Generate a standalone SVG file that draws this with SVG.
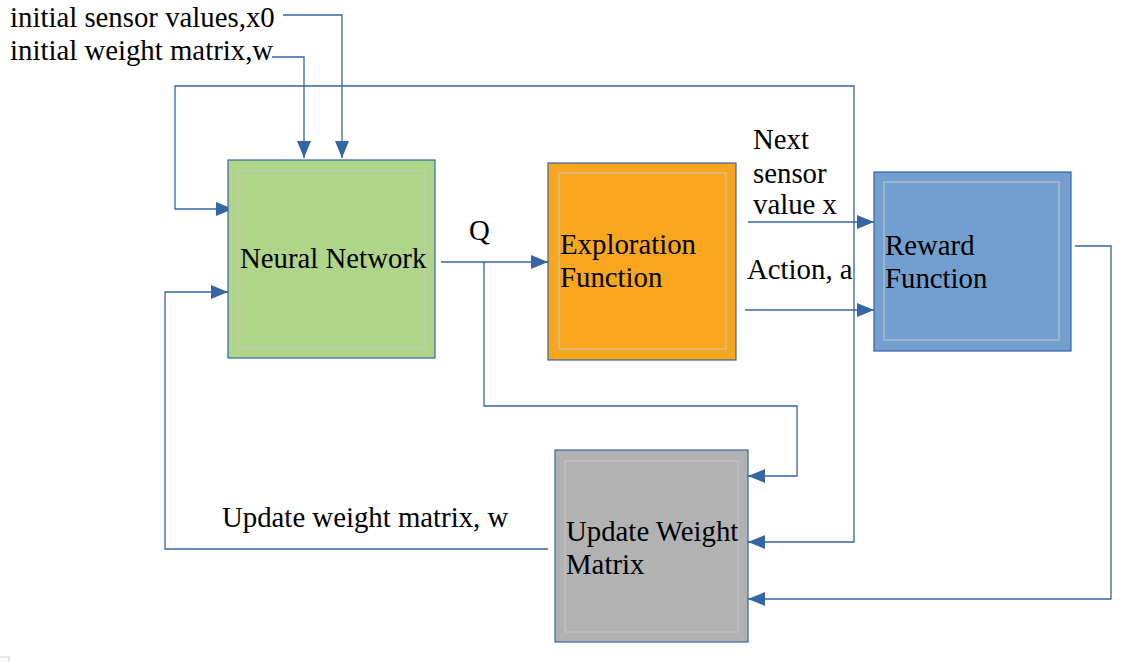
<svg xmlns="http://www.w3.org/2000/svg" width="1145" height="662" viewBox="0 0 1145 662">
<style>
text{font-family:"Liberation Serif","Times New Roman",serif;font-size:28.8px;fill:#000}
.box{stroke:#3465a4;stroke-width:1.2}
.inner{fill:none;stroke:#c8c8c8;stroke-width:1}
.conn{fill:none;stroke:#3465a4;stroke-width:1.3}
</style>
<defs>
<marker id="arr" markerWidth="17" markerHeight="14" refX="17" refY="7" orient="auto" markerUnits="userSpaceOnUse">
<path d="M0,0 L17,7 L0,14 Z" fill="#3465a4"/>
</marker>
<marker id="arrs" markerWidth="17" markerHeight="14" refX="17" refY="7" orient="auto-start-reverse" markerUnits="userSpaceOnUse">
<path d="M0,0 L17,7 L0,14 Z" fill="#3465a4"/>
</marker>
</defs>
<rect width="1145" height="662" fill="#fff"/>
<path d="M0,657 H9 V662" fill="none" stroke="#d0d0d0" stroke-width="1"/>

<g id="connectors">
<path class="conn" d="M283,15 H342 V158" marker-end="url(#arr)"/>
<path class="conn" d="M272,57 H304 V158" marker-end="url(#arr)"/>
<path class="conn" d="M748,542 H854 V86 H175 V209 H233" marker-start="url(#arrs)" marker-end="url(#arr)"/>
<path class="conn" d="M441,262 H548" marker-end="url(#arr)"/>
<path class="conn" d="M484,262 V406 H797 V476 H748" marker-end="url(#arr)"/>
<path class="conn" d="M748,222 H874" marker-end="url(#arr)"/>
<path class="conn" d="M745,310 H874" marker-end="url(#arr)"/>
<path class="conn" d="M1075,246 H1111 V599 H748" marker-end="url(#arr)"/>
<path class="conn" d="M548,549 H165 V292 H228" marker-end="url(#arr)"/>
</g>

<g id="labels">
<text x="10" y="27">initial sensor values,x0</text>
<text x="10" y="60">initial weight matrix,w</text>
<text x="469" y="240">Q</text>
<text x="753" y="149">Next</text>
<text x="753" y="183">sensor</text>
<text x="753" y="214">value x</text>
<text x="747" y="279">Action, a</text>
<text x="222" y="527">Update weight matrix, w</text>
</g>

<g id="neural-network">
<rect class="box" x="228" y="160" width="207" height="198" fill="#afd58b"/>
<rect class="inner" x="238" y="171" width="187" height="177"/>
<text x="240" y="268">Neural Network</text>
</g>

<g id="exploration-function">
<rect class="box" x="548" y="163" width="188" height="197" fill="#f8a61d"/>
<rect class="inner" x="559" y="173" width="167" height="176"/>
<text x="560" y="254">Exploration</text>
<text x="560" y="287">Function</text>
</g>

<g id="reward-function">
<rect class="box" x="874" y="172" width="197" height="179" fill="#729fcf"/>
<rect class="inner" x="884" y="182" width="175" height="158"/>
<text x="885" y="255">Reward</text>
<text x="885" y="288">Function</text>
</g>

<g id="update-weight-matrix">
<rect class="box" x="555" y="450" width="193" height="192" fill="#b2b2b2"/>
<rect class="inner" x="565" y="461" width="173" height="171"/>
<text x="566" y="541">Update Weight</text>
<text x="566" y="574">Matrix</text>
</g>
</svg>
